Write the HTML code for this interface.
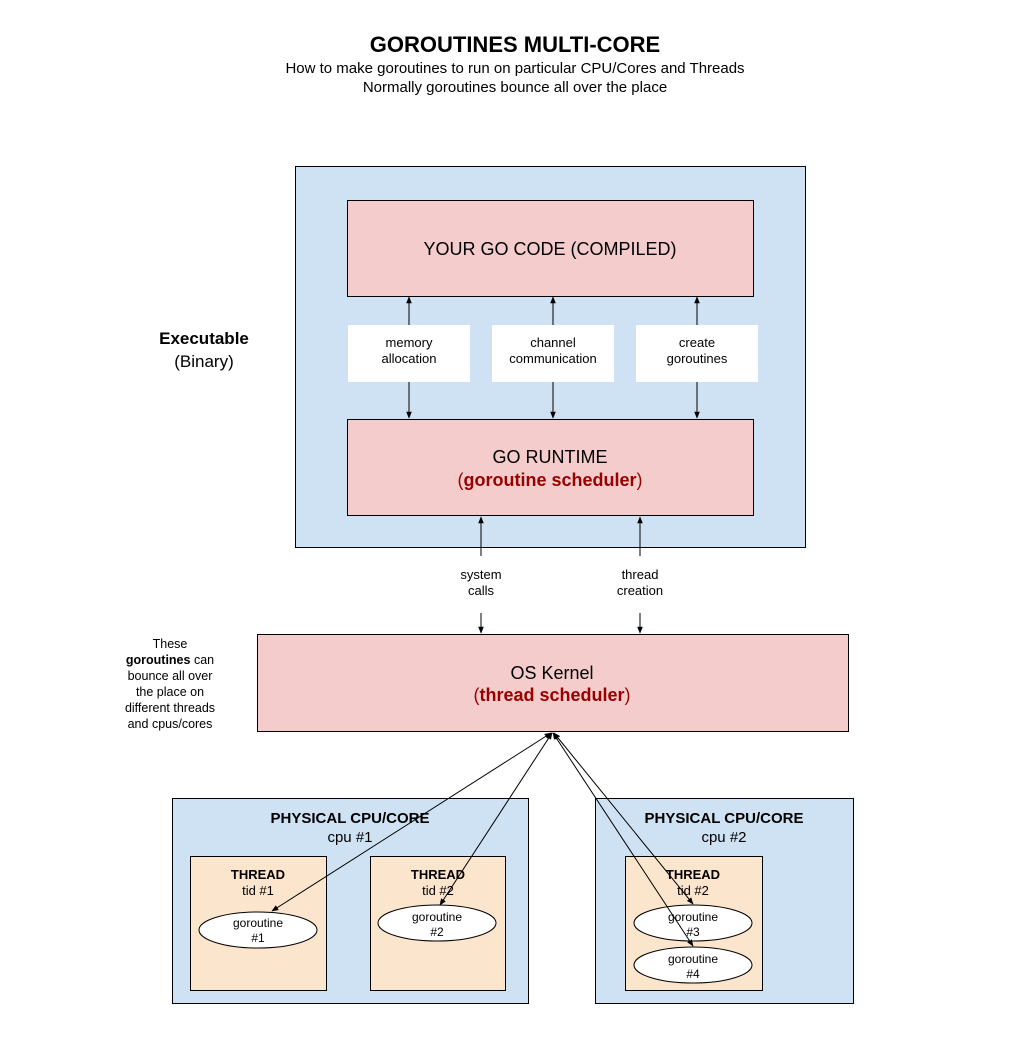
<!DOCTYPE html>
<html><head><meta charset="utf-8"><style>
html,body{margin:0;padding:0;background:#fff}
svg{display:block}
text{font-family:"Liberation Sans",Arial,sans-serif;fill:#000}
</style></head><body>
<svg width="1023" height="1053" viewBox="0 0 1023 1053" xmlns="http://www.w3.org/2000/svg">
<defs>
<marker id="a" viewBox="0 0 10 10" refX="9" refY="5" markerWidth="7" markerHeight="7" orient="auto-start-reverse"><path d="M0,1 L10,5 L0,9 z" fill="#000"/></marker>
</defs>
<text x="515" y="52" font-size="22" font-weight="bold" text-anchor="middle">GOROUTINES MULTI-CORE</text>
<text x="515" y="73" font-size="15" text-anchor="middle">How to make goroutines to run on particular CPU/Cores and Threads</text>
<text x="515" y="92" font-size="15" text-anchor="middle">Normally goroutines bounce all over the place</text>

<text x="204" y="344" font-size="17" font-weight="bold" text-anchor="middle">Executable</text>
<text x="204" y="367" font-size="17" text-anchor="middle">(Binary)</text>

<rect x="295.5" y="166.5" width="510" height="381" fill="#cfe2f3" stroke="#000"/>
<rect x="347.5" y="200.5" width="406" height="96" fill="#f4cccc" stroke="#000"/>
<text x="550" y="255" font-size="18" text-anchor="middle">YOUR GO CODE (COMPILED)</text>

<rect x="348" y="325" width="122" height="57" fill="#fff"/>
<rect x="492" y="325" width="122" height="57" fill="#fff"/>
<rect x="636" y="325" width="122" height="57" fill="#fff"/>
<g font-size="13" text-anchor="middle">
<text x="409" y="347">memory</text><text x="409" y="363">allocation</text>
<text x="553" y="347">channel</text><text x="553" y="363">communication</text>
<text x="697" y="347">create</text><text x="697" y="363">goroutines</text>
</g>
<g stroke="#000" stroke-width="1" marker-end="url(#a)">
<line x1="409" y1="325" x2="409" y2="297"/>
<line x1="553" y1="325" x2="553" y2="297"/>
<line x1="697" y1="325" x2="697" y2="297"/>
<line x1="409" y1="382" x2="409" y2="418"/>
<line x1="553" y1="382" x2="553" y2="418"/>
<line x1="697" y1="382" x2="697" y2="418"/>
<line x1="481" y1="556" x2="481" y2="517"/>
<line x1="640" y1="556" x2="640" y2="517"/>
<line x1="481" y1="613" x2="481" y2="633"/>
<line x1="640" y1="613" x2="640" y2="633"/>
</g>
<rect x="347.5" y="419.5" width="406" height="96" fill="#f4cccc" stroke="#000"/>
<text x="550" y="463" font-size="18" text-anchor="middle">GO RUNTIME</text>
<text x="550" y="486" font-size="18" text-anchor="middle" style="fill:#990000"><tspan>(</tspan><tspan font-weight="bold" style="fill:#990000">goroutine scheduler</tspan><tspan>)</tspan></text>

<g font-size="13" text-anchor="middle">
<text x="481" y="579">system</text><text x="481" y="595">calls</text>
<text x="640" y="579">thread</text><text x="640" y="595">creation</text>
</g>

<rect x="257.5" y="634.5" width="591" height="97" fill="#f4cccc" stroke="#000"/>
<text x="552" y="679" font-size="18" text-anchor="middle">OS Kernel</text>
<text x="552" y="701" font-size="18" text-anchor="middle" style="fill:#990000"><tspan>(</tspan><tspan font-weight="bold" style="fill:#990000">thread scheduler</tspan><tspan>)</tspan></text>

<g font-size="12.5" text-anchor="middle">
<text x="170" y="648">These</text>
<text x="170" y="664"><tspan font-weight="bold">goroutines</tspan> can</text>
<text x="170" y="680">bounce all over</text>
<text x="170" y="696">the place on</text>
<text x="170" y="712">different threads</text>
<text x="170" y="728">and cpus/cores</text>
</g>

<rect x="172.5" y="798.5" width="356" height="205" fill="#cfe2f3" stroke="#000"/>
<text x="350" y="823" font-size="15" font-weight="bold" text-anchor="middle">PHYSICAL CPU/CORE</text>
<text x="350" y="842" font-size="15" text-anchor="middle">cpu #1</text>
<rect x="190.5" y="856.5" width="136" height="134" fill="#fce5cd" stroke="#000"/>
<rect x="370.5" y="856.5" width="135" height="134" fill="#fce5cd" stroke="#000"/>
<rect x="595.5" y="798.5" width="258" height="205" fill="#cfe2f3" stroke="#000"/>
<text x="724" y="823" font-size="15" font-weight="bold" text-anchor="middle">PHYSICAL CPU/CORE</text>
<text x="724" y="842" font-size="15" text-anchor="middle">cpu #2</text>
<rect x="625.5" y="856.5" width="137" height="134" fill="#fce5cd" stroke="#000"/>

<g text-anchor="middle">
<text x="258" y="879" font-size="13" font-weight="bold">THREAD</text><text x="258" y="895" font-size="13">tid #1</text>
<text x="438" y="879" font-size="13" font-weight="bold">THREAD</text><text x="438" y="895" font-size="13">tid #2</text>
<text x="693" y="879" font-size="13" font-weight="bold">THREAD</text><text x="693" y="895" font-size="13">tid #2</text>
</g>
<g fill="#fff" stroke="#000">
<ellipse cx="258" cy="930" rx="59" ry="18"/>
<ellipse cx="437" cy="923" rx="59" ry="18"/>
<ellipse cx="693" cy="923" rx="59" ry="18"/>
<ellipse cx="693" cy="965" rx="59" ry="18"/>
</g>
<g font-size="12" text-anchor="middle">
<text x="258" y="927">goroutine</text><text x="258" y="942">#1</text>
<text x="437" y="921">goroutine</text><text x="437" y="936">#2</text>
<text x="693" y="921">goroutine</text><text x="693" y="936">#3</text>
<text x="693" y="963">goroutine</text><text x="693" y="978">#4</text>
</g>
<g stroke="#000" stroke-width="1" marker-start="url(#a)" marker-end="url(#a)">
<line x1="551" y1="733" x2="272" y2="911"/>
<line x1="552" y1="733" x2="440" y2="905"/>
<line x1="554" y1="733" x2="693" y2="904"/>
<line x1="553" y1="733" x2="693" y2="946"/>
</g>
</svg>
</body></html>
